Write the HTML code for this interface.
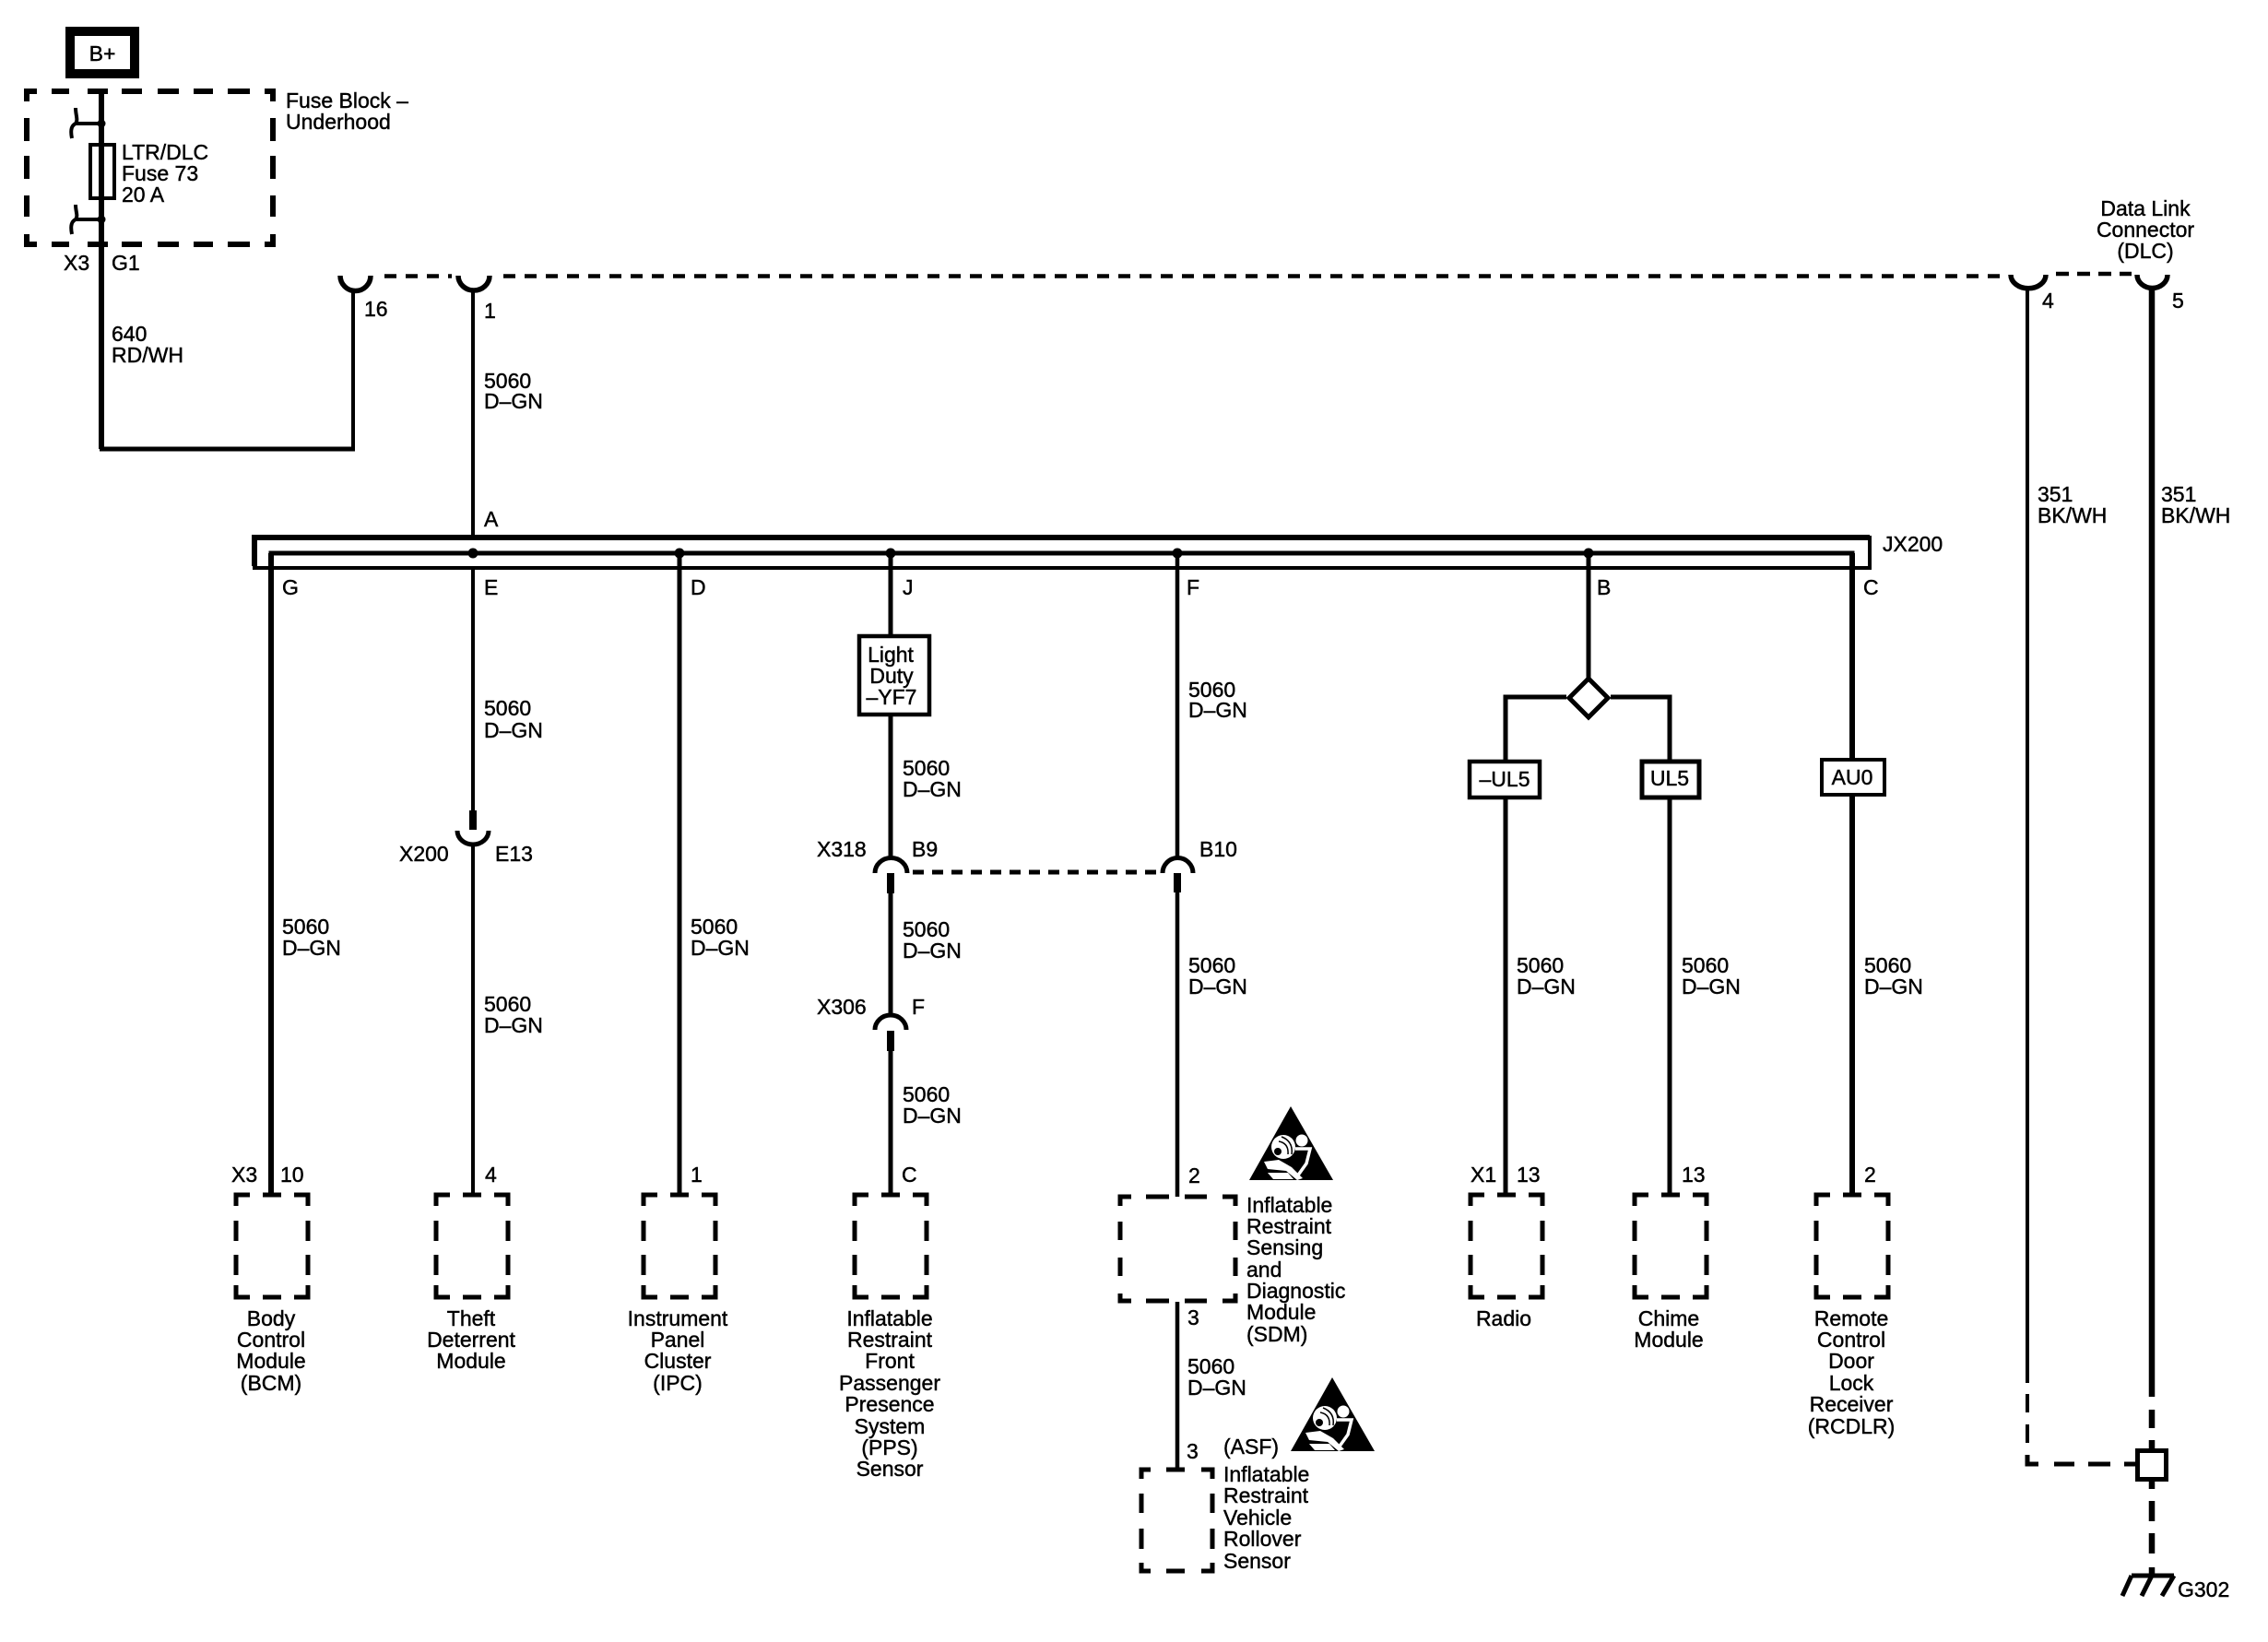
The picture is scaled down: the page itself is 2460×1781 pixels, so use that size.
<!DOCTYPE html>
<html>
<head>
<meta charset="utf-8">
<style>
html,body{margin:0;padding:0;background:#fff}
svg{display:block}
text{font-family:"Liberation Sans",sans-serif;font-size:23px;fill:#000;stroke:#000;stroke-width:.45}
.m{text-anchor:middle}
.w{fill:none;stroke:#000;stroke-linejoin:miter}
</style>
</head>
<body>
<svg xmlns="http://www.w3.org/2000/svg" width="2460" height="1781" viewBox="0 0 2460 1781">
<defs>
<path id="bx" class="w" stroke-width="5" d="M0 12V0H15M29 0H49M63 0H78V12M0 28V50M0 65V87M0 98V111H15M29 111H49M63 111H78V98M78 28V50M78 65V87"/>
<g id="tri">
<path d="M45 0L91 80H0Z" fill="#000"/>
<circle cx="37" cy="44" r="13" fill="#fff"/>
<circle cx="31" cy="49" r="4" fill="#000"/>
<path d="M32 38Q43 40 42 52M35 33Q48 38 46 52" fill="none" stroke="#000" stroke-width="1.500"/>
<circle cx="57" cy="37" r="6.500" fill="#fff"/>
<path d="M50 46H66L62 62L52 76" fill="none" stroke="#fff" stroke-width="3.500"/>
<path d="M16 60L32 58L46 66L58 78L52 80L40 70L20 68Z" fill="#fff"/>
<path d="M20 72L42 72L48 79L26 79Z" fill="#fff"/>
</g>
</defs>
<rect width="2460" height="1781" fill="#fff"/>

<!-- B+ -->
<rect x="76" y="34" width="70" height="46" fill="#fff" stroke="#000" stroke-width="10"/>
<text x="111" y="66" class="m">B+</text>

<!-- Fuse block -->
<path class="w" stroke-width="6" d="M29 110V99H40M56 99H75M95 99H117M132 99H154M171 99H194M210 99H231M247 99H271M287 99H296V110M29 128V153M29 169V194M29 212V235M29 254V265H40M56 265H75M95 265H117M132 265H154M171 265H194M210 265H231M247 265H271M287 265H296V254M296 128V153M296 169V194M296 212V235"/>
<rect x="98" y="157" width="26" height="58" fill="#fff" stroke="#000" stroke-width="4"/>
<path class="w" stroke-width="6" d="M110 97V487"/>
<path class="w" stroke-width="5" d="M108 487H385"/>
<path class="w" stroke-width="4" d="M383 489V316M81 134H110M81 238H110"/>
<path class="w" stroke-width="4" d="M82 117C82 125 85 130 82 134C78 136 76 140 78 150M82 222C82 230 85 234 82 238C78 240 76 244 78 254"/>
<circle cx="110" cy="134" r="4.500"/><circle cx="110" cy="238" r="4.500"/>
<text x="310" y="117">Fuse Block –</text>
<text x="310" y="140">Underhood</text>
<text x="132" y="173">LTR/DLC</text>
<text x="132" y="196">Fuse 73</text>
<text x="132" y="219">20 A</text>
<text x="69" y="293">X3</text>
<text x="121" y="293">G1</text>
<text x="121" y="370">640</text>
<text x="121" y="393">RD/WH</text>
<text x="395" y="343">16</text>
<text x="525" y="345">1</text>
<text x="525" y="421">5060</text>
<text x="525" y="443">D–GN</text>

<!-- Top connectors -->
<path class="w" stroke-width="5.500" d="M369 299A16 16 0 0 0 402 299M497 299A17 16 0 0 0 531 299M2181 298A18 14 0 0 0 2219 298M2318 298A16 14 0 0 0 2351 298"/>
<path class="w" stroke-width="4.500" stroke-dasharray="13 10" d="M417 299.500H490M546 299.500H2176"/>
<path class="w" stroke-width="4.500" stroke-dasharray="14 9" d="M2230 297H2312"/>
<text x="2327" y="234" class="m">Data Link</text>
<text x="2327" y="257" class="m">Connector</text>
<text x="2327" y="280" class="m">(DLC)</text>
<text x="2215" y="334">4</text>
<text x="2356" y="334">5</text>
<text x="2210" y="544">351</text>
<text x="2210" y="567">BK/WH</text>
<text x="2344" y="544">351</text>
<text x="2344" y="567">BK/WH</text>

<!-- Right-side wires -->
<path class="w" stroke-width="4" d="M2199 312V1500M2199 1512V1532M2199 1545V1565"/>
<path class="w" stroke-width="5" d="M2199 1578V1588H2211M2228 1588H2250M2265 1588H2289M2304 1588H2318"/>
<path class="w" stroke-width="6.500" d="M2334 312V1515M2334 1529V1549M2334 1562V1571M2334 1606V1615M2334 1628V1650M2334 1663V1685M2334 1700V1710"/>
<rect x="2318.500" y="1573.500" width="31" height="31" fill="#fff" stroke="#000" stroke-width="5"/>
<path class="w" stroke-width="5" d="M2312 1709H2358M2312 1709L2302 1731M2334 1709L2323 1731M2358 1709L2345 1731"/>
<text x="2362" y="1732">G302</text>

<!-- Harness -->
<path class="w" stroke-width="4" d="M513 316V583"/>
<path class="w" stroke-width="6" d="M2028 583H276V614"/>
<path class="w" stroke-width="4" d="M274 616H2028V581"/>
<path class="w" stroke-width="5" d="M294 1296V600H2009V1296"/>
<text x="525" y="571">A</text>
<text x="2042" y="598">JX200</text>
<text x="306" y="645">G</text>
<text x="525" y="645">E</text>
<text x="749" y="645">D</text>
<text x="979" y="645">J</text>
<text x="1287" y="645">F</text>
<text x="1732" y="645">B</text>
<text x="2021" y="645">C</text>
<circle cx="513" cy="600" r="5.500"/><circle cx="737" cy="600" r="5.500"/><circle cx="966" cy="600" r="5.500"/><circle cx="1277" cy="600" r="5.500"/><circle cx="1723" cy="600" r="5.500"/>

<!-- G wire thicker -->
<path class="w" stroke-width="6" d="M294 600V1296M2009 600V822M2009 864V1296"/>
<text x="306" y="1013">5060</text>
<text x="306" y="1036">D–GN</text>

<!-- E wire -->
<path class="w" stroke-width="4" d="M513 616V880M513 917V1296"/>
<rect x="509" y="879" width="8" height="21"/>
<path class="w" stroke-width="5" d="M496 901A17 15 0 0 0 530 901"/>
<text x="525" y="776">5060</text>
<text x="525" y="800">D–GN</text>
<text x="433" y="934">X200</text>
<text x="537" y="934">E13</text>
<text x="525" y="1097">5060</text>
<text x="525" y="1120">D–GN</text>

<!-- D wire -->
<path class="w" stroke-width="5" d="M737 600V1296"/>
<text x="749" y="1013">5060</text>
<text x="749" y="1036">D–GN</text>

<!-- J wire -->
<path class="w" stroke-width="5" d="M966 600V930M966 969V1100M966 1140V1296"/>
<rect x="932" y="690" width="76" height="85" fill="#fff" stroke="#000" stroke-width="4.500"/>
<text x="966" y="718" class="m">Light</text>
<text x="967" y="741" class="m">Duty</text>
<text x="967" y="764" class="m">–YF7</text>
<path class="w" stroke-width="5" d="M949 947A17 16 0 0 1 984 947M949 1117A17 16 0 0 1 983 1117M1261 947A16 16 0 0 1 1294 947"/>
<rect x="962" y="947" width="8" height="22"/><rect x="962" y="1118" width="8" height="22"/><rect x="1273" y="947" width="8" height="21"/>
<path class="w" stroke-width="5" stroke-dasharray="12 9" d="M990 946H1260"/>
<text x="979" y="841">5060</text>
<text x="979" y="864">D–GN</text>
<text x="886" y="929">X318</text>
<text x="989" y="929">B9</text>
<text x="979" y="1016">5060</text>
<text x="979" y="1039">D–GN</text>
<text x="886" y="1100">X306</text>
<text x="989" y="1100">F</text>
<text x="979" y="1195">5060</text>
<text x="979" y="1218">D–GN</text>

<!-- F wire -->
<path class="w" stroke-width="4.500" d="M1277 600V930M1277 968V1298M1277 1412V1593"/>
<text x="1289" y="756">5060</text>
<text x="1289" y="778">D–GN</text>
<text x="1301" y="929">B10</text>
<text x="1289" y="1055">5060</text>
<text x="1289" y="1078">D–GN</text>

<!-- B wire & option -->
<path class="w" stroke-width="5" d="M1723 600V737M1699 756H1633V826M1747 756H1811V826M1633 865V1296M1811 865V1296"/>
<path d="M1723 736L1744 757L1723 778L1702 757Z" fill="#fff" stroke="#000" stroke-width="5"/>
<rect x="1594" y="826" width="76" height="39" fill="#fff" stroke="#000" stroke-width="4.500"/>
<text x="1632" y="853" class="m">–UL5</text>
<rect x="1781" y="826" width="62" height="39" fill="#fff" stroke="#000" stroke-width="5"/>
<text x="1811" y="852" class="m">UL5</text>
<rect x="1976" y="824" width="68" height="38" fill="#fff" stroke="#000" stroke-width="4"/>
<text x="2009" y="851" class="m">AU0</text>
<text x="1645" y="1055">5060</text>
<text x="1645" y="1078">D–GN</text>
<text x="1824" y="1055">5060</text>
<text x="1824" y="1078">D–GN</text>
<text x="2022" y="1055">5060</text>
<text x="2022" y="1078">D–GN</text>

<!-- Pin labels -->
<text x="251" y="1282">X3</text>
<text x="304" y="1282">10</text>
<text x="526" y="1282">4</text>
<text x="749" y="1282">1</text>
<text x="978" y="1282">C</text>
<text x="1595" y="1282">X1</text>
<text x="1645" y="1282">13</text>
<text x="1824" y="1282">13</text>
<text x="2022" y="1282">2</text>

<!-- Component boxes -->
<use href="#bx" x="256" y="1296"/>
<use href="#bx" x="473" y="1296"/>
<use href="#bx" x="698" y="1296"/>
<use href="#bx" x="927" y="1296"/>
<use href="#bx" x="1595" y="1296"/>
<use href="#bx" x="1773" y="1296"/>
<use href="#bx" x="1970" y="1296"/>
<path class="w" stroke-width="5" d="M1215 1308V1298H1227M1243 1298H1268M1285 1298H1309M1326 1298H1340V1308M1215 1325V1345M1215 1364V1384M1215 1403V1411H1227M1243 1411H1268M1285 1411H1309M1326 1411H1340V1403M1340 1325V1345M1340 1364V1384"/>
<path class="w" stroke-width="5" d="M1238 1604V1594H1248M1265 1594H1285M1303 1594H1315V1604M1238 1620V1641M1238 1658V1680M1238 1695V1704H1248M1265 1704H1285M1303 1704H1315V1695M1315 1620V1641M1315 1658V1680"/>

<!-- Bottom labels -->
<g text-anchor="middle">
<text x="294" y="1438">Body</text><text x="294" y="1461">Control</text><text x="294" y="1484">Module</text><text x="294" y="1508">(BCM)</text>
<text x="511" y="1438">Theft</text><text x="511" y="1461">Deterrent</text><text x="511" y="1484">Module</text>
<text x="735" y="1438">Instrument</text><text x="735" y="1461">Panel</text><text x="735" y="1484">Cluster</text><text x="735" y="1508">(IPC)</text>
<text x="965" y="1438">Inflatable</text><text x="965" y="1461">Restraint</text><text x="965" y="1484">Front</text><text x="965" y="1508">Passenger</text><text x="965" y="1531">Presence</text><text x="965" y="1555">System</text><text x="965" y="1578">(PPS)</text><text x="965" y="1601">Sensor</text>
<text x="1631" y="1438">Radio</text>
<text x="1810" y="1438">Chime</text><text x="1810" y="1461">Module</text>
<text x="2008" y="1438">Remote</text><text x="2008" y="1461">Control</text><text x="2008" y="1484">Door</text><text x="2008" y="1508">Lock</text><text x="2008" y="1531">Receiver</text><text x="2008" y="1555">(RCDLR)</text>
</g>

<!-- SDM -->
<use href="#tri" x="1355" y="1200"/>
<text x="1289" y="1283">2</text>
<text x="1352" y="1315">Inflatable</text>
<text x="1352" y="1338">Restraint</text>
<text x="1352" y="1361">Sensing</text>
<text x="1352" y="1385">and</text>
<text x="1352" y="1408">Diagnostic</text>
<text x="1352" y="1431">Module</text>
<text x="1352" y="1455">(SDM)</text>
<text x="1288" y="1437">3</text>
<text x="1288" y="1490">5060</text>
<text x="1288" y="1513">D–GN</text>

<!-- ASF -->
<use href="#tri" x="1400" y="1494"/>
<text x="1287" y="1582">3</text>
<text x="1327" y="1577">(ASF)</text>
<text x="1327" y="1607">Inflatable</text>
<text x="1327" y="1630">Restraint</text>
<text x="1327" y="1654">Vehicle</text>
<text x="1327" y="1677">Rollover</text>
<text x="1327" y="1701">Sensor</text>
</svg>
</body>
</html>
